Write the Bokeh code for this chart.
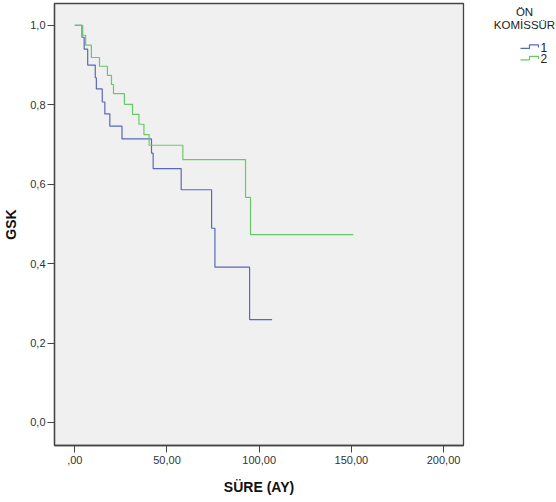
from bokeh.plotting import figure
from bokeh.layouts import row
from bokeh.models import Range1d
from bokeh.core.properties import value
from bokeh.embed import file_html
from bokeh.resources import INLINE

# Kaplan-Meier estimates: time (months) at which each survival level begins
group1_time = [0, 3.9, 5.1, 7.0, 11.1, 11.7, 14.9, 16.3, 19.0, 25.6, 41.6, 42.5,
               57.7, 74.2, 76.0, 94.8, 107.0]
group1_surv = [1.0, 0.970, 0.940, 0.900, 0.868, 0.840, 0.807, 0.777, 0.746, 0.714,
               0.678, 0.639, 0.586, 0.489, 0.391, 0.259, 0.259]

group2_time = [0, 4.3, 5.9, 9.0, 13.4, 17.7, 19.9, 21.0, 26.9, 31.3, 34.8, 37.5,
               40.3, 58.6, 92.6, 95.3, 151.1]
group2_surv = [1.0, 0.975, 0.950, 0.919, 0.897, 0.874, 0.851, 0.828, 0.801, 0.776,
               0.751, 0.725, 0.698, 0.662, 0.567, 0.473, 0.473]

group_names = ["1", "2"]
group_colors = ["#5869bb", "#68c968"]

x_ticks = [0, 50, 100, 150, 200]
x_tick_labels = [",00", "50,00", "100,00", "150,00", "200,00"]
y_ticks = [0.0, 0.2, 0.4, 0.6, 0.8, 1.0]
y_tick_labels = ["0,0", "0,2", "0,4", "0,6", "0,8", "1,0"]

FONT = "Liberation Sans"

p = figure(width=470, height=502, output_backend="svg", toolbar_location=None,
           x_range=Range1d(-11.0, 210.8), y_range=Range1d(-0.058, 1.055),
           min_border_left=50, min_border_right=7, min_border_top=3,
           min_border_bottom=57)
p.background_fill_color = "#f0f0f0"
p.border_fill_color = "white"
p.outline_line_color = "#444444"
p.outline_line_width = 1.3
p.xgrid.visible = False
p.ygrid.visible = False

for t, s, c in [(group1_time, group1_surv, group_colors[0]),
                (group2_time, group2_surv, group_colors[1])]:
    p.step(t, s, mode="after", line_color=c, line_width=1.2)

p.xaxis.ticker = x_ticks
p.xaxis.major_label_overrides = dict(zip(x_ticks, x_tick_labels))
p.yaxis.ticker = y_ticks
p.yaxis.major_label_overrides = dict(zip(y_ticks, y_tick_labels))

p.xaxis.axis_label = "SÜRE (AY)"
p.yaxis.axis_label = "GSK"
for ax in (p.xaxis, p.yaxis):
    ax.axis_line_color = "#444444"
    ax.axis_line_width = 1.3
    ax.major_tick_line_color = "#444444"
    ax.major_tick_out = 7
    ax.major_tick_in = 0
    ax.minor_tick_line_color = None
    ax.major_label_text_font = FONT
    ax.major_label_text_font_size = "11px"
    ax.major_label_text_color = "#333333"
    ax.axis_label_text_font = FONT
    ax.axis_label_text_font_size = "14px"
    ax.axis_label_text_font_style = "bold"
    ax.axis_label_text_color = "#111111"
p.xaxis.major_label_standoff = 3
p.xaxis.axis_label_standoff = 12
p.yaxis.major_label_standoff = 2
p.yaxis.axis_label_standoff = 8

# Legend panel drawn in pixel-like coordinates (y grows downward)
q = figure(width=86, height=502, output_backend="svg", toolbar_location=None,
           x_range=Range1d(0, 86), y_range=Range1d(502, 0),
           x_axis_location=None, y_axis_location=None, min_border=0)
q.outline_line_color = None
q.xgrid.visible = False
q.ygrid.visible = False
q.background_fill_color = "white"
q.border_fill_color = "white"

q.text(x=[54, 54], y=[10, 24], text=["ÖN", "KOMİSSÜR"], text_align="center",
       text_baseline="middle", text_font=value(FONT), text_font_size="11.5px",
       text_color="#222222")

sw_x = [0, 9, 9, 18, 18]
sw_y = [4, 4, 0, 0, 3]
for i, (name, col) in enumerate(zip(group_names, group_colors)):
    y0 = 47 + 13 * i
    q.line([50 + v for v in sw_x], [y0 + v for v in sw_y], line_color=col, line_width=1.2)
    q.text(x=[70], y=[y0 + 3], text=[name], text_align="left", text_baseline="middle",
           text_font=value(FONT), text_font_size="12px", text_color="#222222")

layout = row(p, q, spacing=0)
open("out.html", "w").write(file_html(layout, INLINE))
